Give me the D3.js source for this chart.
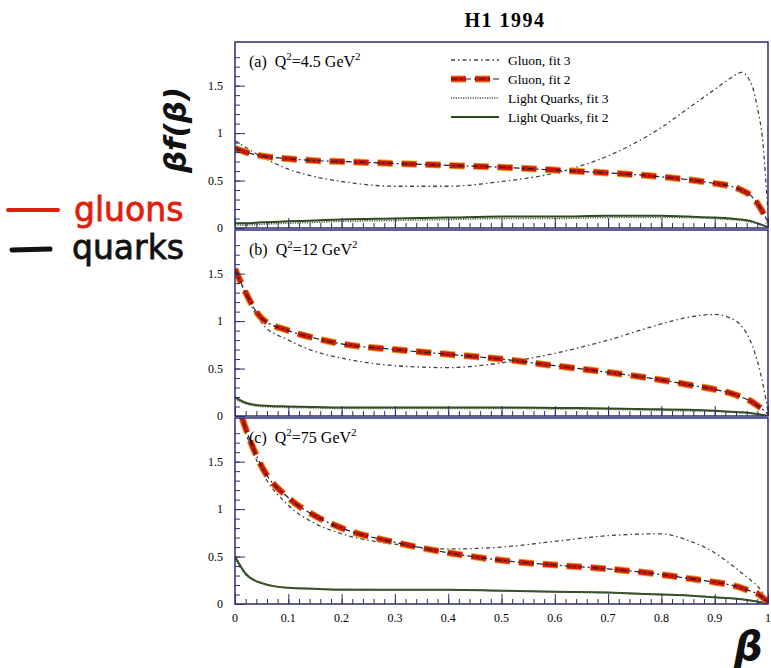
<!DOCTYPE html>
<html>
<head>
<meta charset="utf-8">
<script src="https://cdn.jsdelivr.net/npm/d3@7"></script>
<style>
  body { margin: 0; background: #fff; }
  svg text { font-family: "Liberation Serif", "Times New Roman", serif; }
</style>
</head>
<body>
<div id="plot"></div>
<script>
// beta grid shared by every curve
var beta = [0, 0.02, 0.05, 0.1, 0.15, 0.2, 0.3, 0.4, 0.5, 0.6, 0.7, 0.8, 0.85, 0.9, 0.93, 0.95, 0.97, 0.98, 0.99, 1.0];

// (a) Q2 = 4.5 GeV2
var gluonFit3A = [0.92, 0.85, 0.75, 0.62, 0.54, 0.49, 0.44, 0.44, 0.49, 0.58, 0.76, 1.06, 1.26, 1.46, 1.58, 1.64, 1.5, 1.27, 0.92, 0.15];
var gluonFit2A = [0.84, 0.8, 0.76, 0.73, 0.71, 0.7, 0.68, 0.66, 0.64, 0.61, 0.58, 0.54, 0.51, 0.47, 0.44, 0.4, 0.33, 0.26, 0.17, 0.06];
var quarkFit3A = [0.03, 0.03, 0.04, 0.05, 0.06, 0.07, 0.08, 0.09, 0.1, 0.1, 0.11, 0.11, 0.11, 0.1, 0.09, 0.08, 0.06, 0.05, 0.03, 0.01];
var quarkFit2A = [0.05, 0.05, 0.06, 0.07, 0.08, 0.09, 0.1, 0.11, 0.12, 0.12, 0.13, 0.13, 0.12, 0.11, 0.1, 0.09, 0.07, 0.05, 0.03, 0.01];

// (b) Q2 = 12 GeV2
var gluonFit3B = [1.55, 1.28, 0.98, 0.8, 0.68, 0.61, 0.53, 0.51, 0.56, 0.66, 0.8, 0.97, 1.04, 1.07, 1.03, 0.95, 0.75, 0.58, 0.35, 0.05];
var gluonFit2B = [1.55, 1.3, 1.03, 0.9, 0.82, 0.76, 0.7, 0.65, 0.6, 0.53, 0.46, 0.38, 0.33, 0.28, 0.24, 0.2, 0.15, 0.11, 0.07, 0.02];
var quarkFit3B = [0.18, 0.13, 0.1, 0.09, 0.085, 0.08, 0.08, 0.08, 0.08, 0.075, 0.07, 0.06, 0.055, 0.05, 0.04, 0.035, 0.025, 0.02, 0.01, 0];
var quarkFit2B = [0.2, 0.14, 0.11, 0.1, 0.095, 0.09, 0.09, 0.09, 0.09, 0.085, 0.08, 0.07, 0.065, 0.055, 0.045, 0.04, 0.03, 0.02, 0.01, 0];

// (c) Q2 = 75 GeV2
var gluonFit3C = [2.1, 1.8, 1.4, 1.04, 0.85, 0.74, 0.63, 0.58, 0.6, 0.66, 0.72, 0.74, 0.67, 0.54, 0.42, 0.33, 0.24, 0.19, 0.12, 0.02];
var gluonFit2C = [2.2, 1.85, 1.45, 1.12, 0.93, 0.8, 0.65, 0.54, 0.46, 0.41, 0.37, 0.31, 0.27, 0.23, 0.2, 0.17, 0.13, 0.11, 0.07, 0.02];
var quarkFit3C = [0.48, 0.31, 0.22, 0.17, 0.16, 0.155, 0.15, 0.15, 0.14, 0.13, 0.12, 0.1, 0.09, 0.07, 0.06, 0.05, 0.035, 0.025, 0.015, 0];
var quarkFit2C = [0.5, 0.32, 0.22, 0.17, 0.16, 0.15, 0.15, 0.15, 0.14, 0.13, 0.12, 0.1, 0.09, 0.07, 0.06, 0.05, 0.035, 0.025, 0.015, 0];

var panelLabels = ["(a)", "(b)", "(c)"];
var q2Values = ["4.5", "12", "75"];
var legendNames = ["Gluon, fit 3", "Gluon, fit 2", "Light Quarks, fit 3", "Light Quarks, fit 2"];
var yTicks = [0, 0.5, 1, 1.5];
var xTicks = [0, 0.1, 0.2, 0.3, 0.4, 0.5, 0.6, 0.7, 0.8, 0.9, 1];

var panels = [
    { g3: gluonFit3A, g2: gluonFit2A, q3: quarkFit3A, q2: quarkFit2A },
    { g3: gluonFit3B, g2: gluonFit2B, q3: quarkFit3B, q2: quarkFit2B },
    { g3: gluonFit3C, g2: gluonFit2C, q3: quarkFit3C, q2: quarkFit2C }
];

var width = 771, height = 668;
var left = 235, right = 768, top0 = 42, panelH = 186;
var frameColor = "#2e2e6e";

var svg = d3.select("#plot").append("svg")
    .attr("width", width)
    .attr("height", height);

var xScale = d3.scaleLinear().domain([0, 1]).range([left, right]);

// title
svg.append("text")
    .attr("x", 505).attr("y", 27)
    .attr("text-anchor", "middle")
    .style("font-size", "20px").style("font-weight", "bold")
    .style("letter-spacing", "1.5px")
    .text("H1 1994");

svg.append("defs").selectAll("clipPath")
    .data(panels).enter().append("clipPath")
    .attr("id", function (d, i) { return "clip" + i; })
    .append("rect")
    .attr("x", left).attr("y", function (d, i) { return top0 + i * (panelH + 2); })
    .attr("width", right - left).attr("height", panelH);

// style of each series
var styles = {
    g3: [{ stroke: "#3c4a3c", width: 1.3, dash: "4,3,1.5,3" }],
    g2: [{ stroke: "#e6a020", width: 7, dash: "15,9" },
         { stroke: "#d2180e", width: 5, dash: "15,9" },
         { stroke: "#222", width: 1.2, dash: "6,3,2,3" }],
    q3: [{ stroke: "#4a5a40", width: 1.6, dash: "1.2,1.2" }],
    q2: [{ stroke: "#2c4a1c", width: 2, dash: null }]
};

panels.forEach(function (p, i) {
    var y0 = top0 + i * (panelH + 2);
    var yScale = d3.scaleLinear().domain([0, 1.96]).range([y0 + panelH, y0]);
    var g = svg.append("g");

    // curves
    var line = d3.line()
        .x(function (d, k) { return xScale(beta[k]); })
        .y(function (d) { return yScale(d); })
        .curve(d3.curveMonotoneX);
    var curves = g.append("g").attr("clip-path", "url(#clip" + i + ")");
    ["q2", "q3", "g3", "g2"].forEach(function (key) {
        styles[key].forEach(function (s) {
            curves.append("path")
                .attr("d", line(p[key]))
                .attr("fill", "none")
                .attr("stroke", s.stroke)
                .attr("stroke-width", s.width)
                .attr("stroke-dasharray", s.dash);
        });
    });

    // frame
    g.append("rect")
        .attr("x", left).attr("y", y0)
        .attr("width", right - left).attr("height", panelH)
        .attr("fill", "none").attr("stroke", frameColor).attr("stroke-width", 1.5);

    // y axis ticks inside
    var yAxis = d3.axisRight(yScale).tickValues(d3.range(0, 19).map(function (v) { return v / 10; }))
        .tickSize(5).tickFormat("");
    g.append("g").attr("transform", "translate(" + left + ",0)").call(yAxis)
        .call(function (a) { a.select(".domain").remove(); a.selectAll("line").attr("stroke", frameColor); });
    g.append("g").attr("transform", "translate(" + left + ",0)")
        .call(d3.axisRight(yScale).tickValues(yTicks).tickSize(10).tickFormat(""))
        .call(function (a) { a.select(".domain").remove(); a.selectAll("line").attr("stroke", frameColor); });
    g.selectAll(".ylab").data(yTicks).enter().append("text")
        .attr("x", 223).attr("y", function (d) { return yScale(d) + 4; })
        .attr("text-anchor", "end").style("font-size", "12px")
        .text(function (d) { return d; });

    // x axis ticks inside bottom
    g.append("g").attr("transform", "translate(0," + (y0 + panelH) + ")")
        .call(d3.axisTop(xScale).tickValues(d3.range(0, 51).map(function (v) { return v / 50; })).tickSize(5).tickFormat(""))
        .call(function (a) { a.select(".domain").remove(); a.selectAll("line").attr("stroke", frameColor); });
    g.append("g").attr("transform", "translate(0," + (y0 + panelH) + ")")
        .call(d3.axisTop(xScale).tickValues(xTicks).tickSize(10).tickFormat(""))
        .call(function (a) { a.select(".domain").remove(); a.selectAll("line").attr("stroke", frameColor); });

    // panel label
    var lab = g.append("text").attr("x", 249).attr("y", y0 + 25).style("font-size", "16px");
    lab.append("tspan").text(panelLabels[i] + "\u00a0\u00a0Q");
    lab.append("tspan").attr("dy", -7).style("font-size", "11px").text("2");
    lab.append("tspan").attr("dy", 7).text("=" + q2Values[i] + " GeV");
    lab.append("tspan").attr("dy", -7).style("font-size", "11px").text("2");
});

// x tick labels under bottom panel
svg.selectAll(".xlab").data(xTicks).enter().append("text")
    .attr("x", function (d) { return xScale(d); })
    .attr("y", 622).attr("text-anchor", "middle").style("font-size", "12px")
    .text(function (d) { return d; });

// legend
var legend = svg.append("g");
var legendKeys = ["g3", "g2", "q3", "q2"];
legendKeys.forEach(function (key, k) {
    var ly = 60 + k * 19;
    styles[key].forEach(function (s) {
        legend.append("line")
            .attr("x1", 451).attr("x2", 499).attr("y1", ly).attr("y2", ly)
            .attr("stroke", s.stroke).attr("stroke-width", s.width)
            .attr("stroke-dasharray", s.dash);
    });
    legend.append("text")
        .attr("x", 508).attr("y", ly + 4.5)
        .style("font-size", "13.5px")
        .text(legendNames[k]);
});

// hand written notes
var hand = "'DejaVu Sans', sans-serif";
svg.append("line").attr("x1", 8).attr("x2", 58).attr("y1", 210).attr("y2", 210)
    .attr("stroke", "#e0200e").attr("stroke-width", 4).attr("stroke-linecap", "round");
svg.append("text").attr("x", 74).attr("y", 221).attr("fill", "#e0200e")
    .attr("stroke", "#e0200e").attr("stroke-width", 0.8)
    .style("font-family", hand).style("font-size", "33px").text("gluons");
svg.append("line").attr("x1", 12).attr("x2", 50).attr("y1", 250).attr("y2", 249)
    .attr("stroke", "#111").attr("stroke-width", 5).attr("stroke-linecap", "round");
svg.append("text").attr("x", 72).attr("y", 259).attr("fill", "#111")
    .attr("stroke", "#111").attr("stroke-width", 0.8)
    .style("font-family", hand).style("font-size", "33px").text("quarks");
svg.append("text")
    .attr("transform", "translate(186,130) rotate(-90)")
    .attr("text-anchor", "middle").attr("fill", "#111")
    .style("font-family", hand).style("font-size", "31px").style("font-weight", "bold").style("font-style", "italic")
    .text("\u03b2f(\u03b2)");
svg.append("text").attr("x", 734).attr("y", 660).attr("fill", "#111")
    .style("font-family", hand).style("font-size", "40px").style("font-weight", "bold").style("font-style", "italic")
    .text("\u03b2");
</script>
</body>
</html>
